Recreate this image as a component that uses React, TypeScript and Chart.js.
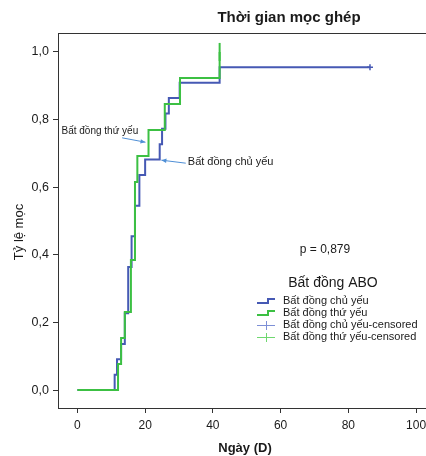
import { useEffect, useRef } from "react";
import { Chart, registerables } from "chart.js";

Chart.register(...registerables);

const FONT = "'Liberation Sans', Arial, sans-serif";

// ---- text ----
const chartTitle = "Thời gian mọc ghép";
const xTitle = "Ngày (D)";
const yTitle = "Tỷ lệ mọc";
const legendTitle = "Bất đồng ABO";
const pText = "p = 0,879";
const seriesNames = ["Bất đồng chủ yếu", "Bất đồng thứ yếu"];
const censoredNames = ["Bất đồng chủ yếu-censored", "Bất đồng thứ yếu-censored"];

// ---- ticks ----
const xTicks = [0, 20, 40, 60, 80, 100];
const yTicks = [0, 0.2, 0.4, 0.6, 0.8, 1.0];

// ---- series: Bất đồng chủ yếu (blue) ----
const majorDays = [0, 11, 11.7, 12.9, 14, 15, 16, 17, 18.3, 20, 24.3, 25, 26, 27, 30.2, 42, 86.4];
const majorValues = [0, 0.045, 0.091, 0.136, 0.227, 0.364, 0.455, 0.545, 0.636, 0.682, 0.727, 0.773, 0.818, 0.864, 0.909, 0.955, 0.955];
const majorCensorDays = [86.4];
const majorCensorValues = [0.955];

// ---- series: Bất đồng thứ yếu (green) ----
const minorDays = [0, 12, 12.9, 14, 15.8, 17, 17.7, 21, 25.8, 30.3, 42];
const minorValues = [0, 0.077, 0.154, 0.231, 0.385, 0.615, 0.692, 0.769, 0.846, 0.923, 1.0];
const minorCensorDays = [42];
const minorCensorValues = [1.0];

// ---- annotations (data units) ----
const minorNoteText = "Bất đồng thứ yếu";
const minorNoteAt = [-4.7, 0.764];
const minorArrowFrom = [13.2, 0.746];
const minorArrowTo = [20.1, 0.733];
const majorNoteText = "Bất đồng chủ yếu";
const majorNoteAt = [32.6, 0.675];
const majorArrowFrom = [32.0, 0.671];
const majorArrowTo = [24.8, 0.68];

const BLUE = "#4659b4";
const GREEN = "#3cc043";
const BLUE_LIGHT = "#7d8fd6";
const GREEN_LIGHT = "#6fd86f";
const ARROW = "#4f8fd6";
const AXIS = "#333333";
const TEXT = "#1a1a1a";

const CANVAS_W = 445;
const CANVAS_H = 456;

const toPts = (xs: number[], ys: number[]) => xs.map((x, i) => ({ x, y: ys[i] }));

export default function App() {
  const ref = useRef<HTMLCanvasElement>(null);

  useEffect(() => {
    const canvas = ref.current!;

    const overlay = {
      id: "overlay",
      afterDraw(chart: any) {
        const ctx = chart.ctx as CanvasRenderingContext2D;
        const { left, top, right, bottom } = chart.chartArea;
        const sx = chart.scales.x;
        const sy = chart.scales.y;
        const px = (p: number[]) => [sx.getPixelForValue(p[0]), sy.getPixelForValue(p[1])];
        ctx.save();

        // frame
        ctx.strokeStyle = AXIS;
        ctx.lineWidth = 1;
        ctx.strokeRect(Math.round(left) + 0.5, Math.round(top) + 0.5, Math.round(right - left), Math.round(bottom - top));

        ctx.fillStyle = TEXT;
        ctx.textBaseline = "middle";

        // title
        ctx.font = `bold 15px ${FONT}`;
        ctx.textAlign = "center";
        ctx.fillText(chartTitle, 289, 18);

        // x title
        ctx.font = `bold 13px ${FONT}`;
        ctx.fillText(xTitle, 245, 448);

        // y title
        ctx.save();
        ctx.translate(19, 232);
        ctx.rotate(-Math.PI / 2);
        ctx.font = `13px ${FONT}`;
        ctx.fillText(yTitle, 0, 0);
        ctx.restore();

        // p value
        ctx.font = `12px ${FONT}`;
        ctx.textAlign = "center";
        ctx.fillText(pText, 325, 250);

        // legend
        ctx.font = `14px ${FONT}`;
        ctx.fillText(legendTitle, 333, 283);
        const rows = [301, 313, 325, 337];
        const ix0 = 257, ix1 = 275, textX = 283;
        const lineCols = [BLUE, GREEN];
        ctx.textAlign = "left";
        ctx.font = `11px ${FONT}`;
        for (let i = 0; i < 2; i++) {
          const y = rows[i];
          ctx.strokeStyle = lineCols[i];
          ctx.lineWidth = 2;
          ctx.beginPath();
          ctx.moveTo(ix0, y + 2);
          ctx.lineTo(268, y + 2);
          ctx.lineTo(268, y - 2);
          ctx.lineTo(ix1, y - 2);
          ctx.stroke();
          ctx.fillStyle = TEXT;
          ctx.fillText(seriesNames[i], textX, y);
        }
        const censCols = [BLUE_LIGHT, GREEN_LIGHT];
        for (let i = 0; i < 2; i++) {
          const y = rows[i + 2];
          ctx.strokeStyle = censCols[i];
          ctx.lineWidth = 1;
          ctx.beginPath();
          ctx.moveTo(ix0, y + 0.5);
          ctx.lineTo(ix1, y + 0.5);
          ctx.moveTo(266.5, y - 4);
          ctx.lineTo(266.5, y + 5);
          ctx.stroke();
          ctx.fillStyle = TEXT;
          ctx.fillText(censoredNames[i], textX, y);
        }

        // annotations
        const arrow = (from: number[], to: number[]) => {
          const [x0, y0] = px(from);
          const [x1, y1] = px(to);
          ctx.strokeStyle = ARROW;
          ctx.fillStyle = ARROW;
          ctx.lineWidth = 1;
          ctx.beginPath();
          ctx.moveTo(x0, y0);
          ctx.lineTo(x1, y1);
          ctx.stroke();
          const a = Math.atan2(y1 - y0, x1 - x0);
          const L = 5, W = 2.2;
          ctx.beginPath();
          ctx.moveTo(x1, y1);
          ctx.lineTo(x1 - L * Math.cos(a) + W * Math.sin(a), y1 - L * Math.sin(a) - W * Math.cos(a));
          ctx.lineTo(x1 - L * Math.cos(a) - W * Math.sin(a), y1 - L * Math.sin(a) + W * Math.cos(a));
          ctx.closePath();
          ctx.fill();
        };
        arrow(minorArrowFrom, minorArrowTo);
        arrow(majorArrowFrom, majorArrowTo);
        ctx.fillStyle = TEXT;
        ctx.textAlign = "left";
        ctx.font = `10px ${FONT}`;
        const [mx, my] = px(minorNoteAt);
        ctx.fillText(minorNoteText, mx, my);
        ctx.font = `11px ${FONT}`;
        const [jx, jy] = px(majorNoteAt);
        ctx.fillText(majorNoteText, jx, jy);

        ctx.restore();
      },
    };

    const chart = new Chart(canvas, {
      type: "scatter",
      data: {
        datasets: [
          {
            label: seriesNames[1],
            data: toPts(minorDays, minorValues),
            showLine: true,
            stepped: "before",
            borderColor: GREEN,
            borderWidth: 2,
            pointRadius: 0,
            fill: false,
            order: 0,
          },
          {
            label: censoredNames[1],
            data: toPts(minorCensorDays, minorCensorValues),
            showLine: false,
            pointStyle: "line",
            rotation: 90,
            pointRadius: 9,
            pointBorderColor: GREEN,
            pointBorderWidth: 2,
            borderColor: GREEN,
            order: 0,
          },
          {
            label: seriesNames[0],
            data: toPts(majorDays, majorValues),
            showLine: true,
            stepped: "before",
            borderColor: BLUE,
            borderWidth: 2,
            pointRadius: 0,
            fill: false,
            order: 1,
          },
          {
            label: censoredNames[0],
            data: toPts(majorCensorDays, majorCensorValues),
            showLine: false,
            pointStyle: "cross",
            pointRadius: 3,
            pointBorderColor: BLUE,
            pointBorderWidth: 1.5,
            borderColor: BLUE,
            order: 1,
          },
        ],
      },
      options: {
        responsive: false,
        animation: false,
        layout: { padding: { top: 33, left: 0, right: 0, bottom: 0 } },
        plugins: {
          legend: { display: false },
          tooltip: { enabled: false },
          title: { display: false },
        },
        scales: {
          x: {
            type: "linear",
            min: -5.73,
            max: 105.3,
            afterBuildTicks: (s: any) => {
              s.ticks = xTicks.map((v) => ({ value: v }));
            },
            afterFit: (s: any) => {
              s.height = 48;
              s.paddingLeft = 0;
              s.paddingRight = 0;
            },
            grid: { drawOnChartArea: false, drawTicks: true, tickLength: 5, color: AXIS },
            border: { display: false },
            ticks: {
              color: TEXT,
              font: { family: FONT, size: 12 },
              padding: 5,
              maxRotation: 0,
              callback: (v: any) => String(v),
            },
          },
          y: {
            type: "linear",
            min: -0.053,
            max: 1.056,
            afterBuildTicks: (s: any) => {
              s.ticks = yTicks.map((v) => ({ value: v }));
            },
            afterFit: (s: any) => {
              s.width = 58;
              s.paddingTop = 0;
              s.paddingBottom = 0;
            },
            grid: { drawOnChartArea: false, drawTicks: true, tickLength: 5, color: AXIS },
            border: { display: false },
            ticks: {
              color: TEXT,
              font: { family: FONT, size: 12.5 },
              padding: 4,
              callback: (v: any) => Number(v).toFixed(1).replace(".", ","),
            },
          },
        },
      },
      plugins: [overlay],
    });

    return () => chart.destroy();
  }, []);

  return (
    <div style={{ position: "fixed", left: 0, top: 0, width: 426, height: 456, overflow: "hidden", background: "#fff" }}>
      <canvas ref={ref} width={CANVAS_W} height={CANVAS_H} style={{ display: "block", width: CANVAS_W, height: CANVAS_H }} />
    </div>
  );
}
